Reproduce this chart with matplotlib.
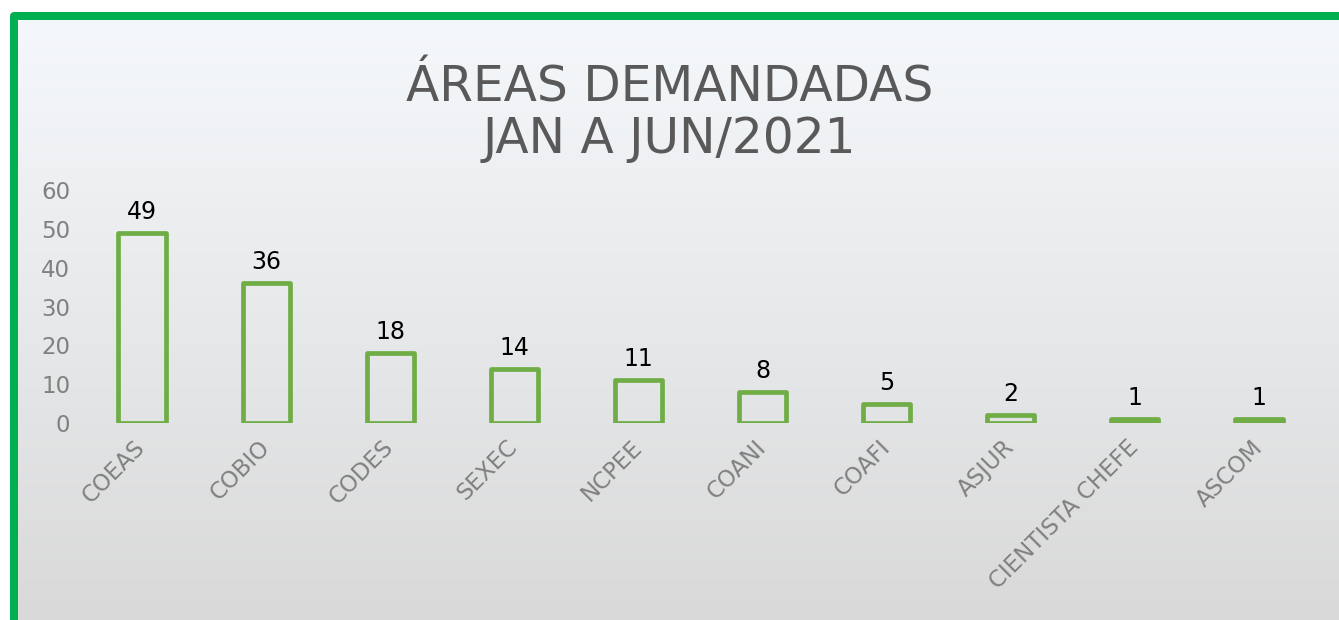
import numpy as np
import matplotlib
matplotlib.use("Agg")
import matplotlib.pyplot as plt
from matplotlib.patches import Rectangle

categories = ["COEAS", "COBIO", "CODES", "SEXEC", "NCPEE", "COANI", "COAFI",
              "ASJUR", "CIENTISTA CHEFE", "ASCOM"]
values = [49, 36, 18, 14, 11, 8, 5, 2, 1, 1]
yticks = [0, 10, 20, 30, 40, 50, 60]
title = "ÁREAS DEMANDADAS\nJAN A JUN/2021"

W, H = 1339, 620
fig = plt.figure(figsize=(W / 100, H / 100), dpi=100)
fig.patch.set_facecolor("white")

# gradient background panel
bg = fig.add_axes([18 / W, 0, 1 - 18 / W, 1 - 20 / H])
bg.set_axis_off()
top = np.array([245, 248, 251]) / 255
bot = np.array([217, 217, 217]) / 255
t = np.linspace(0, 1, 256)[:, None]
grad = (top[None, :] * (1 - t) + bot[None, :] * t)[:, None, :]
bg.imshow(grad, aspect="auto", extent=[0, 1, 0, 1], origin="upper")
bg.set_xlim(0, 1)
bg.set_ylim(0, 1)

# green border
border = Rectangle((14 / W, -0.1), 1.1, 1 - 16 / H + 0.1, transform=fig.transFigure,
                   fill=False, edgecolor="#00B050", linewidth=8 * 0.72,
                   joinstyle="round", zorder=5)
fig.patches.append(border)

ax = fig.add_axes([80 / W, (H - 423) / H, 1241 / W, 233 / H])
ax.patch.set_alpha(0)
x = np.arange(len(categories))
ax.bar(x, values, width=0.38, fill=False, edgecolor="#70AD47", linewidth=3.4,
       joinstyle="round")
for xi, v in zip(x, values):
    ax.annotate(str(v), (xi, v), xytext=(0, 10), textcoords="offset points",
                ha="center", va="baseline", fontsize=17, color="black")

ax.set_xlim(-0.5, len(categories) - 0.5)
ax.set_ylim(0, 60)
ax.set_yticks(yticks)
ax.set_yticklabels([str(v) for v in yticks], fontsize=16.5, color="#808080")
ax.set_xticks(x)
ax.set_xticklabels(categories, rotation=45, ha="right", va="center",
                   rotation_mode="anchor", fontsize=16.5, color="#808080")
ax.tick_params(axis="both", length=0)
ax.tick_params(axis="y", pad=7)
ax.tick_params(axis="x", pad=15)
for s in ax.spines.values():
    s.set_visible(False)

fig.text(0.5, 1 - 153 / H, title, ha="center", va="baseline", fontsize=35,
         color="#595959", linespacing=1.1)

fig.savefig("out.png", dpi=100)
